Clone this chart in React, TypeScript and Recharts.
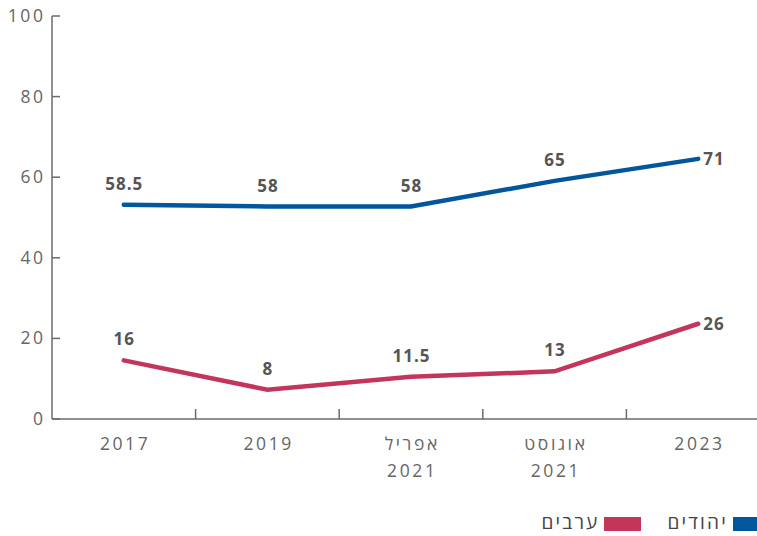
import React from 'react';
import { LineChart, Line, XAxis, YAxis, LabelList } from 'recharts';

const categories = ['2017', '2019', 'אפריל 2021', 'אוגוסט 2021', '2023'];
const jews = [58.5, 58, 58, 65, 71];
const arabs = [16, 8, 11.5, 13, 26];
const yTickLabels = [0, 20, 40, 60, 80, 100];
// the source chart's top gridline labelled "100" actually sits at 110
const yTop = 110;

const BLUE = '#02569b';
const RED = '#c3355b';
const AXIS = '#6b6b6b';
const FONT = '"Open Sans", "Noto Sans", sans-serif';
const TICK_LS = 2.6;

const data = categories.map((name, i) => ({ name, jews: jews[i], arabs: arabs[i] }));
const yTicks = yTickLabels.map((t) => (t * yTop) / 100);

function XTick({ x, y, payload, index }: any) {
  const half = payload?.offset ?? 71.8;
  const lines = String(payload.value).split(' ');
  const cx = x + TICK_LS / 2;
  return (
    <g>
      {index > 0 && (
        <line x1={x - half} x2={x - half} y1={y - 10} y2={y} stroke={AXIS} strokeWidth={1.5} />
      )}
      <text
        x={cx}
        y={y + 31}
        textAnchor="middle"
        fill="#666"
        fontSize={17.5}
        letterSpacing={TICK_LS}
        fontFamily={FONT}
      >
        {lines.map((l, i) => (
          <tspan key={i} x={cx} dy={i === 0 ? 0 : 27}>
            {l}
          </tspan>
        ))}
      </text>
    </g>
  );
}

function YTick({ x, y, index }: any) {
  return (
    <g>
      <line x1={x} x2={x + 8} y1={y} y2={y} stroke={AXIS} strokeWidth={1.5} />
      <text
        x={x - 9 + TICK_LS}
        y={y + 6}
        textAnchor="end"
        fill="#666"
        fontSize={17.5}
        letterSpacing={TICK_LS}
        fontFamily={FONT}
      >
        {yTickLabels[index]}
      </text>
    </g>
  );
}

const renderLabel = (props: any) => {
  const { x, y, value, index } = props;
  const last = index === categories.length - 1;
  return (
    <text
      x={last ? x + 5 : x + 0.5}
      y={last ? y + 6 : y - 15}
      textAnchor={last ? 'start' : 'middle'}
      fill="#555"
      fontSize={17}
      fontWeight={700}
      letterSpacing={1}
      fontFamily={FONT}
    >
      {value}
    </text>
  );
};

function LegendItem({ color, label }: { color: string; label: string }) {
  return (
    <div style={{ display: 'flex', alignItems: 'center', gap: 5 }}>
      <span style={{ width: 37, height: 14, background: color, display: 'inline-block', marginTop: 3 }} />
      <span style={{ letterSpacing: 2.2 }}>{label}</span>
    </div>
  );
}

export default function App() {
  return (
    <div style={{ position: 'fixed', left: 0, top: 0, width: 757, height: 536, overflow: 'hidden', background: '#fff' }}>
      <div style={{ position: 'relative', width: 780, height: 536 }}>
        <LineChart width={780} height={536} data={data} margin={{ top: 16, right: 10, left: 0, bottom: 47 }}>
          <XAxis
            dataKey="name"
            scale="band"
            stroke={AXIS}
            strokeWidth={1.5}
            tickLine={false}
            tickSize={0}
            tickMargin={0}
            height={70}
            interval={0}
            tick={<XTick />}
          />
          <YAxis
            domain={[0, yTop]}
            ticks={yTicks}
            width={52}
            stroke={AXIS}
            strokeWidth={1.5}
            tickLine={false}
            tickSize={0}
            tickMargin={0}
            interval={0}
            tick={<YTick />}
          />
          <Line
            dataKey="jews"
            stroke={BLUE}
            strokeWidth={4.5}
            strokeLinecap="round"
            dot={false}
            isAnimationActive={false}
          >
            <LabelList dataKey="jews" content={renderLabel} />
          </Line>
          <Line
            dataKey="arabs"
            stroke={RED}
            strokeWidth={4.5}
            strokeLinecap="round"
            dot={false}
            isAnimationActive={false}
          >
            <LabelList dataKey="arabs" content={renderLabel} />
          </Line>
        </LineChart>
        <div
          style={{
            position: 'absolute',
            right: 10,
            top: 509,
            display: 'flex',
            direction: 'rtl',
            gap: 26,
            fontFamily: FONT,
            fontSize: 19,
            color: '#444',
            lineHeight: '26px',
          }}
        >
          <LegendItem color={BLUE} label="יהודים" />
          <LegendItem color={RED} label="ערבים" />
        </div>
      </div>
    </div>
  );
}
